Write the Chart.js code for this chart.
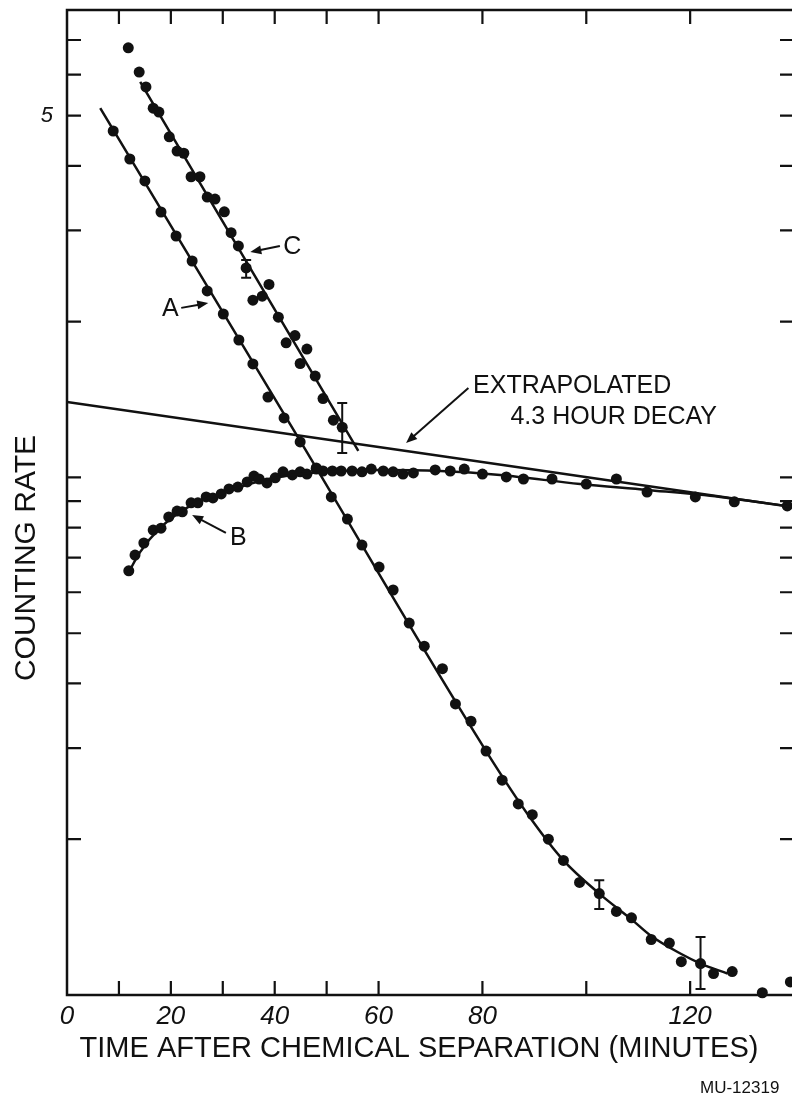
<!DOCTYPE html>
<html>
<head>
<meta charset="utf-8">
<script src="https://cdn.jsdelivr.net/npm/chart.js@4.4.0/dist/chart.umd.min.js"></script>
<style>
  html, body { margin: 0; padding: 0; background: #fff; overflow: hidden; }
</style>
</head>
<body>
<canvas id="decay" width="800" height="1101"></canvas>
<script>
// --- measured points (minutes, counting rate) ---
// curve A
const timeA = [8.9, 12.1, 15.0, 18.1, 21.0, 24.1, 27.0, 30.1, 33.1, 35.8, 38.7, 41.8, 44.9, 48.0, 50.9, 54.0,
    56.8, 60.1, 62.8, 65.9, 68.8, 72.3, 74.8, 77.8, 80.7, 83.8, 86.9, 89.6, 92.7, 95.6, 98.7, 102.5,
    105.8, 108.7, 112.5, 116.0, 118.3, 122.0, 124.5, 128.1, 133.9, 139.3];
const rateA = [4.670, 4.123, 3.739, 3.257, 2.927, 2.619, 2.292, 2.069, 1.843, 1.657, 1.430, 1.303, 1.171, 1.038, 0.917, 0.831,
    0.740, 0.671, 0.606, 0.523, 0.472, 0.427, 0.365, 0.338, 0.296, 0.260, 0.234, 0.223, 0.200, 0.182, 0.165, 0.157,
    0.145, 0.141, 0.128, 0.126, 0.116, 0.115, 0.110, 0.111, 0.101, 0.106];

// curve B
const timeB = [11.9, 13.1, 14.8, 16.6, 18.1, 19.6, 21.2, 22.2, 23.9, 25.2, 26.8, 28.1, 29.7, 31.2, 32.9, 34.7,
    36.0, 37.0, 38.5, 40.1, 41.6, 43.4, 44.9, 46.2, 48.0, 49.3, 51.1, 52.8, 54.9, 56.8, 58.6, 60.9,
    62.8, 64.7, 66.7, 70.9, 73.8, 76.5, 80.0, 84.6, 87.9, 93.4, 100.0, 105.8, 111.7, 121.0, 128.5, 138.7];
const rateB = [0.660, 0.708, 0.747, 0.791, 0.798, 0.839, 0.861, 0.858, 0.893, 0.893, 0.917, 0.913, 0.929, 0.950, 0.958, 0.980,
    1.006, 0.993, 0.976, 0.998, 1.025, 1.011, 1.025, 1.015, 1.043, 1.029, 1.029, 1.029, 1.029, 1.025, 1.038, 1.029,
    1.025, 1.015, 1.020, 1.034, 1.029, 1.038, 1.015, 1.002, 0.993, 0.993, 0.971, 0.993, 0.937, 0.917, 0.897, 0.881];

// curve C
const timeC = [11.8, 13.9, 15.2, 16.6, 17.7, 19.7, 21.2, 22.5, 23.9, 25.6, 27.0, 28.5, 30.3, 31.6,
    33.0, 34.5, 35.8, 37.6, 38.9, 40.7, 42.2, 43.9, 44.9, 46.2, 47.8, 49.3, 51.3, 53.0];
const rateC = [6.76, 6.07, 5.68, 5.17, 5.08, 4.55, 4.27, 4.23, 3.81, 3.81, 3.48, 3.45, 3.26, 2.97,
    2.80, 2.54, 2.20, 2.24, 2.36, 2.04, 1.82, 1.88, 1.66, 1.77, 1.57, 1.42, 1.29, 1.25];

// --- drawn curves ---
const fitATime = [6.4, 44.9, 80.7, 89.2, 95.6, 102.5, 108.7, 112.5, 118.3, 122.0, 127.2];
const fitARate = [5.17, 1.176, 0.296, 0.220, 0.182, 0.157, 0.140, 0.130, 0.120, 0.115, 0.110];

const fitBTime = [11.6, 14.1, 17.9, 23.7, 29.5, 37.2, 44.9, 52.6, 60.3, 71.9, 83.4, 98.8, 111.7, 125.8, 140];
const fitBRate = [0.648, 0.718, 0.798, 0.881, 0.929, 0.984, 1.015, 1.029, 1.034, 1.029, 1.011, 0.971, 0.946, 0.917, 0.876];

const fitCTime = [14.1, 56.1];
const fitCRate = [5.81, 1.125];

// 4.3 hour decay line, extrapolated back to t = 0
const decayTime = [0, 140];
const decayRate = [1.399, 0.876];

// error bars
const errTime = [34.5, 53.0, 102.5, 122.0];
const errLow = [2.43, 1.115, 0.1466, 0.1027];
const errHigh = [2.63, 1.393, 0.1666, 0.1295];

// axes
const xTickValues = [0, 10, 20, 30, 40, 50, 60, 80, 100, 120];
const xTickLabels = [0, 20, 40, 60, 80, 120];
const yTickValues = [0.2, 0.3, 0.4, 0.5, 0.6, 0.7, 0.8, 0.9, 1, 2, 3, 4, 5, 6, 7];
const yTickLabels = [5];

const INK = '#111';
const SANS = '"Liberation Sans", Arial, sans-serif';

const zip = (xs, ys) => xs.map((x, i) => ({ x, y: ys[i] }));

function fitLine(xs, ys) {
    return {
        type: 'line',
        data: zip(xs, ys),
        borderColor: INK,
        borderWidth: 2.5,
        pointRadius: 0,
        fill: false,
        cubicInterpolationMode: 'monotone'
    };
}

function dots(xs, ys) {
    return {
        type: 'scatter',
        data: zip(xs, ys),
        backgroundColor: INK,
        borderWidth: 0,
        pointRadius: 5.5,
        clip: false
    };
}

function arrow(ctx, x1, y1, x2, y2) {
    const a = Math.atan2(y2 - y1, x2 - x1);
    const len = 11, half = 4.5;
    ctx.beginPath();
    ctx.moveTo(x1, y1);
    ctx.lineTo(x2 - Math.cos(a) * len * 0.6, y2 - Math.sin(a) * len * 0.6);
    ctx.stroke();
    ctx.beginPath();
    ctx.moveTo(x2, y2);
    ctx.lineTo(x2 - Math.cos(a) * len - Math.sin(a) * half, y2 - Math.sin(a) * len + Math.cos(a) * half);
    ctx.lineTo(x2 - Math.cos(a) * len + Math.sin(a) * half, y2 - Math.sin(a) * len - Math.cos(a) * half);
    ctx.closePath();
    ctx.fill();
}

// curve labels and arrows, placed in data units
const notes = [
    { text: 'C', t: 43.4, v: 2.79, from: [41.0, 2.80], to: [35.3, 2.726] },
    { text: 'A', t: 19.9, v: 2.116, from: [22.0, 2.126], to: [27.2, 2.173] },
    { text: 'B', t: 33.0, v: 0.764, from: [30.6, 0.781], to: [24.1, 0.846] }
];

const paperPlugin = {
    id: 'paper',
    afterDraw(chart) {
        const ctx = chart.ctx;
        const { left, right, top, bottom } = chart.chartArea;
        const xs = chart.scales.x, ys = chart.scales.y;
        ctx.save();
        ctx.strokeStyle = INK;
        ctx.fillStyle = INK;
        ctx.lineCap = 'butt';

        // frame
        ctx.lineWidth = 2.5;
        ctx.strokeRect(left, top, right - left, bottom - top);

        // inward tick marks on all four sides
        const tl = 14;
        ctx.lineWidth = 2.2;
        ctx.beginPath();
        xTickValues.forEach(v => {
            if (v === 0) return;
            const x = xs.getPixelForValue(v);
            ctx.moveTo(x, bottom); ctx.lineTo(x, bottom - tl);
            ctx.moveTo(x, top); ctx.lineTo(x, top + tl);
        });
        yTickValues.forEach(v => {
            const y = ys.getPixelForValue(v);
            ctx.moveTo(left, y); ctx.lineTo(left + tl, y);
            ctx.moveTo(right, y); ctx.lineTo(right - tl, y);
        });
        ctx.stroke();

        // error bars
        ctx.lineWidth = 2;
        ctx.beginPath();
        errTime.forEach((t, i) => {
            const x = xs.getPixelForValue(t);
            const y1 = ys.getPixelForValue(errHigh[i]);
            const y2 = ys.getPixelForValue(errLow[i]);
            ctx.moveTo(x, y1); ctx.lineTo(x, y2);
            ctx.moveTo(x - 5, y1); ctx.lineTo(x + 5, y1);
            ctx.moveTo(x - 5, y2); ctx.lineTo(x + 5, y2);
        });
        ctx.stroke();

        // curve labels
        ctx.font = '25px ' + SANS;
        ctx.textAlign = 'center';
        ctx.textBaseline = 'middle';
        ctx.lineWidth = 2;
        notes.forEach(n => {
            ctx.fillText(n.text, xs.getPixelForValue(n.t), ys.getPixelForValue(n.v));
            arrow(ctx, xs.getPixelForValue(n.from[0]), ys.getPixelForValue(n.from[1]),
                xs.getPixelForValue(n.to[0]), ys.getPixelForValue(n.to[1]));
        });

        ctx.textAlign = 'left';
        ctx.fillText('EXTRAPOLATED', xs.getPixelForValue(78.2), ys.getPixelForValue(1.502));
        ctx.fillText('4.3 HOUR DECAY', xs.getPixelForValue(85.4), ys.getPixelForValue(1.309));
        arrow(ctx, xs.getPixelForValue(77.3), ys.getPixelForValue(1.489),
            xs.getPixelForValue(65.3), ys.getPixelForValue(1.166));

        // axis titles
        ctx.textAlign = 'center';
        ctx.font = '29px ' + SANS;
        ctx.fillText('TIME AFTER CHEMICAL SEPARATION (MINUTES)', 419, 1049, 684);

        ctx.save();
        ctx.translate(27, 558);
        ctx.rotate(-Math.PI / 2);
        ctx.font = '30px ' + SANS;
        ctx.fillText('COUNTING RATE', 0, 0);
        ctx.restore();

        // drawing number
        ctx.font = '17px ' + SANS;
        ctx.textAlign = 'left';
        ctx.fillText('MU-12319', 700, 1088, 82);

        ctx.restore();
    }
};

new Chart(document.getElementById('decay'), {
    type: 'scatter',
    data: {
        datasets: [
            fitLine(decayTime, decayRate),
            fitLine(fitATime, fitARate),
            fitLine(fitBTime, fitBRate),
            fitLine(fitCTime, fitCRate),
            dots(timeA, rateA),
            dots(timeB, rateB),
            dots(timeC, rateC)
        ]
    },
    options: {
        responsive: false,
        animation: false,
        layout: { padding: { top: 10, right: 6, left: 0, bottom: 0 } },
        plugins: {
            legend: { display: false },
            tooltip: { enabled: false }
        },
        scales: {
            x: {
                type: 'linear',
                min: 0,
                max: 140,
                grid: { display: false },
                border: { display: false },
                afterBuildTicks: s => { s.ticks = xTickValues.map(value => ({ value })); },
                afterFit: s => { s.height = 106; s.paddingLeft = 0; s.paddingRight = 0; },
                ticks: {
                    autoSkip: false,
                    maxRotation: 0,
                    padding: -2,
                    color: INK,
                    font: { family: SANS, size: 26, style: 'italic' },
                    callback: v => xTickLabels.includes(v) ? String(v) : ''
                }
            },
            y: {
                type: 'logarithmic',
                min: 0.1,
                max: 8,
                grid: { display: false },
                border: { display: false },
                afterBuildTicks: s => { s.ticks = yTickValues.map(value => ({ value })); },
                afterFit: s => { s.width = 67; s.paddingTop = 0; s.paddingBottom = 0; },
                ticks: {
                    autoSkip: false,
                    padding: 6,
                    color: INK,
                    font: { family: SANS, size: 22, style: 'italic' },
                    callback: v => yTickLabels.includes(v) ? String(v) : ''
                }
            }
        }
    },
    plugins: [paperPlugin]
});
</script>
</body>
</html>
